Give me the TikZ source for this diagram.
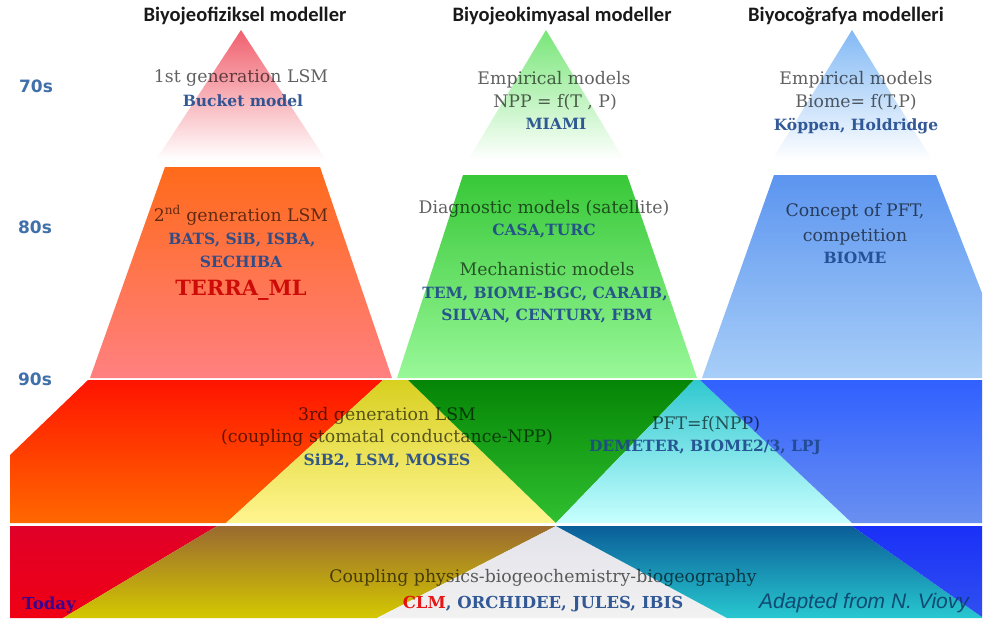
\documentclass[tikz,border=0pt]{standalone}
\usepackage{fontspec}
\setmainfont{DejaVu Serif}
\newfontfamily\headfont{Carlito}
\newfontfamily\decfont{DejaVu Sans}
\newfontfamily\notefont{Liberation Sans}

% apex colours of the first-generation triangles
\definecolor{redApex}{RGB}{240,96,110}
\definecolor{greenApex}{RGB}{120,230,120}
\definecolor{blueApex}{RGB}{130,185,245}
% second band
\definecolor{redTwoTop}{RGB}{255,106,26}
\definecolor{redTwoBot}{RGB}{255,128,128}
\definecolor{greenTwoTop}{RGB}{56,200,56}
\definecolor{greenTwoBot}{RGB}{152,248,152}
\definecolor{blueTwoTop}{RGB}{92,149,240}
\definecolor{blueTwoBot}{RGB}{168,206,248}
% third band
\definecolor{redThrTop}{RGB}{255,20,0}
\definecolor{redThrBot}{RGB}{255,104,0}
\definecolor{yelThrTop}{RGB}{216,208,32}
\definecolor{yelThrBot}{RGB}{255,245,144}
\definecolor{dgrThrTop}{RGB}{5,133,5}
\definecolor{dgrThrBot}{RGB}{48,192,48}
\definecolor{cyaThrTop}{RGB}{48,200,208}
\definecolor{cyaThrBot}{RGB}{200,255,255}
\definecolor{bluThrTop}{RGB}{48,96,255}
\definecolor{bluThrBot}{RGB}{106,144,240}
% bottom band
\definecolor{redNowTop}{RGB}{224,0,40}
\definecolor{redNowBot}{RGB}{240,0,20}
\definecolor{brnNowTop}{RGB}{154,106,48}
\definecolor{brnNowBot}{RGB}{212,200,0}
\definecolor{whtNowTop}{RGB}{226,226,234}
\definecolor{whtNowBot}{RGB}{242,242,242}
\definecolor{tealNowTop}{RGB}{10,94,152}
\definecolor{tealNowBot}{RGB}{40,200,208}
\definecolor{bluNowTop}{RGB}{26,48,248}
\definecolor{bluNowBot}{RGB}{48,80,240}
% text
\definecolor{nameBlue}{RGB}{30,72,140}
\definecolor{decBlue}{RGB}{64,112,170}
\definecolor{noteBlue}{RGB}{12,56,100}
\definecolor{terraRed}{RGB}{200,0,0}

\begin{document}
\begin{tikzpicture}[x=1pt,y=-1pt,
  plain/.style={anchor=base,inner sep=0pt,font=\fontsize{17.3}{20}\selectfont,
    text=black,text opacity=0.62},
  modelname/.style={anchor=base,inner sep=0pt,
    font=\bfseries\fontsize{15.5}{18}\selectfont,text=nameBlue,text opacity=0.9},
  headtxt/.style={anchor=base,inner sep=0pt,
    font=\headfont\bfseries\fontsize{20.5}{24}\selectfont,text=black!90},
  decadetxt/.style={anchor=base,inner sep=0pt,
    font=\decfont\bfseries\fontsize{17}{20}\selectfont,text=decBlue}]

\useasboundingbox (0,0) rectangle (988,625);
\fill[white] (0,0) rectangle (988,625);

% ---- 1970s: faded apex triangles
\shade[top color=redApex,bottom color=white]
  (241,30) -- (326,160) -- (156,160) -- cycle;
\shade[top color=greenApex,bottom color=white]
  (546,30) -- (624,160) -- (468,160) -- cycle;
\shade[top color=blueApex,bottom color=white]
  (852,30) -- (932,160) -- (772,160) -- cycle;

% ---- 1980s: trapezoids
\shade[top color=redTwoTop,bottom color=redTwoBot]
  (165,167) -- (320,167) -- (392,378) -- (90,378) -- cycle;
\shade[top color=greenTwoTop,bottom color=greenTwoBot]
  (463,175) -- (627,175) -- (697,378) -- (397,378) -- cycle;
\shade[top color=blueTwoTop,bottom color=blueTwoBot]
  (774,175) -- (936,175) -- (982,293) -- (982,378) -- (702,378) -- cycle;

% ---- 1990s: overlapping band
\shade[top color=redThrTop,bottom color=redThrBot]
  (88,380) -- (383,380) -- (226,523) -- (10,523) -- (10,455) -- cycle;
\shade[top color=yelThrTop,bottom color=yelThrBot]
  (383,380) -- (408,380) -- (556,523) -- (226,523) -- cycle;
\shade[top color=dgrThrTop,bottom color=dgrThrBot]
  (408,380) -- (694,380) -- (556,523) -- cycle;
\shade[top color=cyaThrTop,bottom color=cyaThrBot]
  (694,380) -- (700,380) -- (852,523) -- (556,523) -- cycle;
\shade[top color=bluThrTop,bottom color=bluThrBot]
  (700,380) -- (982,380) -- (982,523) -- (852,523) -- cycle;

% ---- today: overlapping band
\shade[top color=redNowTop,bottom color=redNowBot]
  (10,526) -- (217,526) -- (63,618) -- (10,618) -- cycle;
\shade[top color=brnNowTop,bottom color=brnNowBot]
  (217,526) -- (556,526) -- (377,618) -- (63,618) -- cycle;
\shade[top color=whtNowTop,bottom color=whtNowBot]
  (556,526) -- (727,618) -- (377,618) -- cycle;
\shade[top color=tealNowTop,bottom color=tealNowBot]
  (556,526) -- (852,526) -- (982,617) -- (982,618) -- (727,618) -- cycle;
\shade[top color=bluNowTop,bottom color=bluNowBot]
  (852,526) -- (982,526) -- (982,617) -- cycle;

% ---- column headings
\node[headtxt] (hPhys) at (245,21) {Biyojeofiziksel modeller};
\node[headtxt] (hChem) at (562,21) {Biyojeokimyasal modeller};
\node[headtxt] (hGeo)  at (846,21) {Biyocoğrafya modelleri};

% ---- decades
\node[decadetxt] (d70) at (36,92) {70s};
\node[decadetxt] (d80) at (35,233) {80s};
\node[decadetxt] (d90) at (35,385) {90s};
\node[modelname,text=blue!70!black,text opacity=0.75,font=\bfseries\fontsize{16.5}{18}\selectfont]
  (dNow) at (49,609) {Today};

% ---- 1970s texts
\node[plain]     (p70a) at (241,82)  {1st generation LSM};
\node[modelname] (p70b) at (243,106) {Bucket model};
\node[plain]     (c70a) at (554,84)  {Empirical models};
\node[plain]     (c70b) at (555,107) {NPP = f(T , P)};
\node[modelname] (c70c) at (556,129) {MIAMI};
\node[plain]     (g70a) at (856,84)  {Empirical models};
\node[plain]     (g70b) at (856,107) {Biome= f(T,P)};
\node[modelname] (g70c) at (856,130) {Köppen, Holdridge};

% ---- 1980s texts
\node[plain]     (p80a) at (241,221) {2\textsuperscript{nd} generation LSM};
\node[modelname] (p80b) at (242,244) {BATS, SiB, ISBA,};
\node[modelname] (p80c) at (241,267) {SECHIBA};
\node[modelname,text=terraRed,font=\bfseries\fontsize{21}{24}\selectfont]
                 (p80d) at (241,295) {TERRA\_ML};
\node[plain]     (c80a) at (544,213) {Diagnostic models (satellite)};
\node[modelname] (c80b) at (544,235) {CASA,TURC};
\node[plain]     (c80c) at (547,275) {Mechanistic models};
\node[modelname] (c80d) at (545,298) {TEM, BIOME-BGC, CARAIB,};
\node[modelname] (c80e) at (547,320) {SILVAN, CENTURY, FBM};
\node[plain]     (g80a) at (855,216) {Concept of PFT,};
\node[plain]     (g80b) at (855,241) {competition};
\node[modelname] (g80c) at (855,263) {BIOME};

% ---- 1990s texts
\node[plain]     (t90a) at (387,420) {3rd generation LSM};
\node[plain]     (t90b) at (387,442) {(coupling stomatal conductance-NPP)};
\node[modelname] (t90c) at (387,465) {SiB2, LSM, MOSES};
\node[plain]     (t90d) at (706,429) {PFT=f(NPP)};
\node[modelname] (t90e) at (705,451) {DEMETER, BIOME2/3, LPJ};

% ---- today texts
\node[plain] (nowA) at (543,582) {Coupling physics-biogeochemistry-biogeography};
\node[modelname,font=\bfseries\fontsize{16.5}{18}\selectfont] (nowB) at (543,608)
  {\textcolor{red!90!black}{CLM}, ORCHIDEE, JULES, IBIS};
\node[anchor=base,inner sep=0pt,font=\notefont\itshape\fontsize{21}{24}\selectfont,
  text=noteBlue,text opacity=0.85] (credit) at (864,608) {Adapted from N. Viovy};
\end{tikzpicture}
\end{document}
